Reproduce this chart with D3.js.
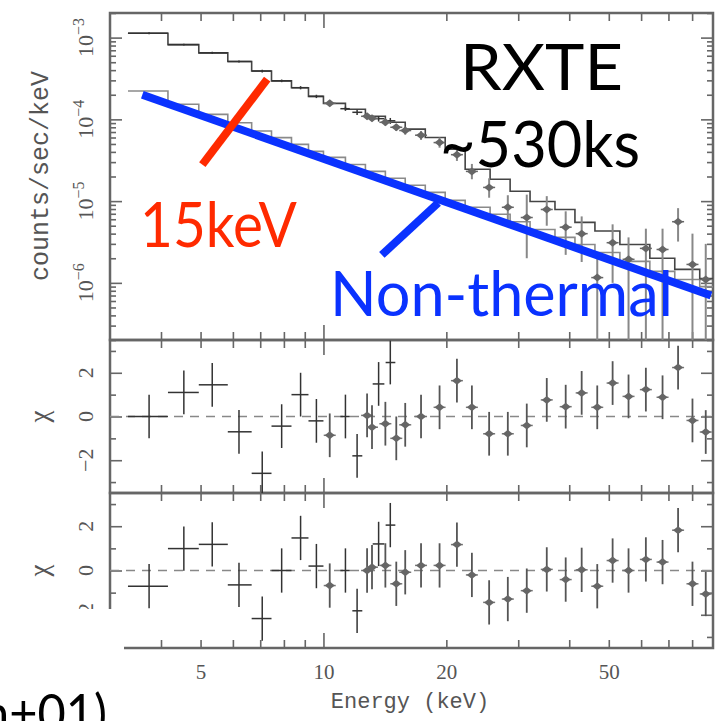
<!DOCTYPE html>
<html>
<head>
<meta charset="utf-8">
<script src="https://cdn.jsdelivr.net/npm/d3@7"></script>
<style>
  body { margin: 0; background: #fff; }
  svg { display: block; }
</style>
</head>
<body>
<script>
// ---- data ----
// model histograms (bin edges in keV, counts/sec/keV per bin)
var modelEdges = [3.32, 4.16, 4.95, 5.83, 6.67, 7.46, 8.35, 9.19, 10, 11.32, 12.67, 14.18, 15.86, 17.76, 19.87, 22.24, 25.6, 28.66, 32.07, 36.91, 41.31, 46.24, 53.23, 63.03, 72.54, 83.51, 90];
var modelUpper = [1.13e-3, 8.2e-4, 6.5e-4, 5.1e-4, 3.9e-4, 2.96e-4, 2.44e-4, 1.91e-4, 1.57e-4, 1.33e-4, 1.09e-4, 9.2e-5, 7.6e-5, 6.0e-5, 4.3e-5, 2.45e-5, 1.85e-5, 1.32e-5, 9.9e-6, 7.9e-6, 5.5e-6, 4.3e-6, 2.95e-6, 2.0e-6, 1.46e-6, 1.13e-6];
var modelLower = [2.22e-4, 1.53e-4, 1.15e-4, 9.1e-5, 7.2e-5, 5.97e-5, 4.94e-5, 4.06e-5, 3.43e-5, 2.81e-5, 2.31e-5, 1.9e-5, 1.56e-5, 1.28e-5, 1.02e-5, 8.4e-6, 6.9e-6, 5.6e-6, 4.5e-6, 3.6e-6, 2.95e-6, 2.35e-6, 1.83e-6, 1.38e-6, 1.1e-6, 9.0e-7];

// low energy data (plain crosses)
var pcaE      = [3.74, 4.55, 5.34, 6.21, 7.08, 7.90, 8.79, 9.61, 11.32, 12.09, 13.65, 14.58];
var pcaELo    = [3.32, 4.16, 4.95, 5.83, 6.67, 7.46, 8.35, 9.19, 11.0, 11.77, 13.2, 14.2];
var pcaEHi    = [4.16, 4.95, 5.83, 6.67, 7.46, 8.35, 9.19, 10.0, 11.6, 12.45, 14.1, 15.0];
var pcaFlux   = [1.13e-3, 8.2e-4, 6.5e-4, 5.1e-4, 3.9e-4, 2.96e-4, 2.44e-4, 1.91e-4, 1.35e-4, 1.22e-4, 1.02e-4, 9.6e-5];
var pcaFluxLo = [1.10e-3, 8.0e-4, 6.3e-4, 4.95e-4, 3.75e-4, 2.85e-4, 2.33e-4, 1.82e-4, 1.27e-4, 1.13e-4, 9.4e-5, 8.8e-5];
var pcaFluxHi = [1.16e-3, 8.4e-4, 6.7e-4, 5.25e-4, 4.05e-4, 3.07e-4, 2.55e-4, 2.0e-4, 1.43e-4, 1.31e-4, 1.10e-4, 1.04e-4];
var pcaChi1   = [0, 1.1, 1.45, -0.7, -2.6, -0.44, 1.0, -0.2, 0, -1.8, 1.49, 2.47];
var pcaChi2   = [-0.71, 0.99, 1.18, -0.65, -2.17, 0, 1.47, 0.2, 0, -1.82, 1.2, 2.05];

// high energy data (diamonds)
var hxE      = [10.36, 12.79, 13.15, 14.18, 15.08, 15.86, 17.34, 19.25, 21.23, 23.10, 25.46, 28.29, 31.48, 35.24, 39.21, 42.91, 46.85, 51.09, 55.89, 61.63, 67.71, 73.91, 80.16, 86.39];
var hxFlux   = [1.57e-4, 1.09e-4, 1.03e-4, 9.2e-5, 8.0e-5, 7.3e-5, 6.4e-5, 5.2e-5, 3.7e-5, 2.31e-5, 1.47e-5, 8.4e-6, 6.3e-6, 7.9e-6, 4.8e-6, 4.0e-6, 1.16e-6, 3.1e-6, 1.94e-6, 2.64e-6, 2.56e-6, 5.6e-6, 1.68e-6, 1.10e-6];
var hxFluxLo = [1.45e-4, 1.0e-4, 9.5e-5, 8.4e-5, 7.2e-5, 6.5e-5, 5.6e-5, 4.5e-5, 3.1e-5, 1.85e-5, 1.1e-5, 5.6e-6, 2.0e-6, 5.0e-6, 2.2e-6, 1.8e-6, 1e-8, 1.0e-6, 1e-8, 1e-8, 1e-8, 3.2e-6, 1e-8, 1e-8];
var hxFluxHi = [1.70e-4, 1.18e-4, 1.12e-4, 1.0e-4, 8.8e-5, 8.1e-5, 7.2e-5, 6.0e-5, 4.4e-5, 2.85e-5, 1.9e-5, 1.18e-5, 1.2e-5, 1.15e-5, 7.5e-6, 6.5e-6, 2.2e-6, 5.2e-6, 3.6e-6, 4.6e-6, 4.6e-6, 8.2e-6, 4.0e-6, 3.0e-6];
var hxChi1   = [-0.86, 0.05, -0.49, -0.33, -1.0, -0.38, 0.0, 0.42, 1.64, 0.42, -0.79, -0.79, -0.41, 0.76, 0.45, 1.08, 0.42, 1.53, 0.92, 1.23, 0.88, 2.24, -0.18, -0.71];
var hxChi2   = [-0.68, 0, 0.15, 0.23, -0.6, -0.08, 0.23, 0.23, 1.17, -0.2, -1.44, -1.29, -0.91, 0.05, -0.41, 0.03, -0.71, 0.45, 0, 0.5, 0.38, 1.82, -0.6, -1.06];

// hand-drawn annotation strokes, in data units (keV, counts/sec/keV)
var nonThermalE = [3.6, 89], nonThermalFlux = [2.0e-4, 7.0e-7];
var pointerE = [19.1, 13.9], pointerFlux = [9.5e-6, 2.2e-6];
var cutE = [7.28, 5.05], cutFlux = [3.1e-4, 2.8e-5];

// tick labels
var xLabels = [5, 10, 20, 50];
var yTopLabels = [1e-6, 1e-5, 1e-4, 1e-3];
var chiLabels = [-2, 0, 2];

// ---- layout ----
var width = 718, height = 721;
var X0 = 110, X1 = 713;
var axisCol = "#666", textCol = "#555";

var svg = d3.select("body").append("svg")
    .attr("width", width)
    .attr("height", height);

var x = d3.scaleLog().domain([3, 90]).range([X0, X1]);
var yTop = d3.scaleLog().domain([2e-7, 2e-3]).range([340, 13]);
var yMid = d3.scaleLinear().domain([-3.5, 3.5]).range([493, 340]);
var yBot = d3.scaleLinear().domain([-3.5, 3.5]).range([648, 493]);

var panels = [
  {name: "top", y: yTop, top: 13, bottom: 340},
  {name: "mid", y: yMid, top: 340, bottom: 493},
  {name: "bot", y: yBot, top: 493, bottom: 648}
];

var xMinor = x.ticks().filter(function(d) { return d > 3 && d < 90 && d !== 10; });
var xMajor = [10];

var defs = svg.append("defs");
panels.forEach(function(p) {
  defs.append("clipPath").attr("id", "clip-" + p.name)
    .append("rect")
    .attr("x", X0).attr("y", p.top)
    .attr("width", X1 - X0).attr("height", p.bottom - p.top);
});

function ax(g, axis, tx, ty) {
  g.append("g")
    .attr("transform", "translate(" + tx + "," + ty + ")")
    .call(axis)
    .call(function(s) { s.select(".domain").remove(); })
    .call(function(s) { s.selectAll("line").attr("stroke", axisCol).attr("stroke-width", 1.6); });
}

function frame(p, yMajor, yMinor) {
  var g = svg.append("g").attr("class", "frame");
  ax(g, d3.axisBottom(x).tickValues(xMinor).tickSize(8).tickFormat(""), 0, p.top);
  ax(g, d3.axisBottom(x).tickValues(xMajor).tickSize(15).tickFormat(""), 0, p.top);
  ax(g, d3.axisTop(x).tickValues(xMinor).tickSize(8).tickFormat(""), 0, p.bottom);
  ax(g, d3.axisTop(x).tickValues(xMajor).tickSize(15).tickFormat(""), 0, p.bottom);
  ax(g, d3.axisRight(p.y).tickValues(yMinor).tickSize(6).tickFormat(""), X0, 0);
  ax(g, d3.axisRight(p.y).tickValues(yMajor).tickSize(12).tickFormat(""), X0, 0);
  ax(g, d3.axisLeft(p.y).tickValues(yMinor).tickSize(6).tickFormat(""), X1, 0);
  ax(g, d3.axisLeft(p.y).tickValues(yMajor).tickSize(12).tickFormat(""), X1, 0);
  g.append("rect")
    .attr("x", X0).attr("y", p.top)
    .attr("width", X1 - X0).attr("height", p.bottom - p.top)
    .attr("fill", "none")
    .attr("stroke", axisCol)
    .attr("stroke-width", 2.5);
}

var logAll = yTop.ticks();
frame(panels[0],
  logAll.filter(function(d) { return Math.abs(Math.log10(d) - Math.round(Math.log10(d))) < 1e-6; }),
  logAll.filter(function(d) { return Math.abs(Math.log10(d) - Math.round(Math.log10(d))) >= 1e-6; }));
frame(panels[1], [-2, 0, 2], [-3, -1, 1, 3]);
frame(panels[2], [-2, 0, 2], [-3, -1, 1, 3]);

// ---- top panel: models and data ----
function steps(edges, vals) {
  var pts = [];
  vals.forEach(function(v, i) {
    pts.push([x(edges[i]), yTop(v)]);
    pts.push([x(edges[i + 1]), yTop(v)]);
  });
  return d3.line()(pts);
}

var topG = svg.append("g").attr("clip-path", "url(#clip-top)");

topG.append("path")
  .attr("d", steps(modelEdges, modelLower))
  .attr("fill", "none").attr("stroke", "#8a8a8a").attr("stroke-width", 1.6);

topG.append("path")
  .attr("d", steps(modelEdges, modelUpper))
  .attr("fill", "none").attr("stroke", "#444").attr("stroke-width", 1.6);

pcaE.forEach(function(e, i) {
  topG.append("line")
    .attr("x1", x(pcaELo[i])).attr("x2", x(pcaEHi[i]))
    .attr("y1", yTop(pcaFlux[i])).attr("y2", yTop(pcaFlux[i]))
    .attr("stroke", "#333").attr("stroke-width", 1.5);
  topG.append("line")
    .attr("x1", x(e)).attr("x2", x(e))
    .attr("y1", yTop(pcaFluxLo[i])).attr("y2", yTop(pcaFluxHi[i]))
    .attr("stroke", "#333").attr("stroke-width", 1.5);
});

var diamond = "M-5,0L0,-4L5,0L0,4Z";

hxE.forEach(function(e, i) {
  topG.append("line")
    .attr("x1", x(e)).attr("x2", x(e))
    .attr("y1", yTop(hxFluxLo[i])).attr("y2", yTop(hxFluxHi[i]))
    .attr("stroke", "#888").attr("stroke-width", 2);
  topG.append("line")
    .attr("x1", x(e) - 6).attr("x2", x(e) + 6)
    .attr("y1", yTop(hxFlux[i])).attr("y2", yTop(hxFlux[i]))
    .attr("stroke", "#666").attr("stroke-width", 1.5);
  topG.append("path")
    .attr("d", diamond)
    .attr("transform", "translate(" + x(e) + "," + yTop(hxFlux[i]) + ")")
    .attr("fill", "#666");
});

// ---- residual panels ----
function residuals(p, chiA, chiB) {
  var g = svg.append("g").attr("clip-path", "url(#clip-" + p.name + ")");
  g.append("line")
    .attr("x1", X0).attr("x2", X1)
    .attr("y1", p.y(0)).attr("y2", p.y(0))
    .attr("stroke", "#888").attr("stroke-width", 1.5)
    .attr("stroke-dasharray", "9,7");

  pcaE.forEach(function(e, i) {
    g.append("line")
      .attr("x1", x(pcaELo[i])).attr("x2", x(pcaEHi[i]))
      .attr("y1", p.y(chiA[i])).attr("y2", p.y(chiA[i]))
      .attr("stroke", "#333").attr("stroke-width", 1.5);
    g.append("line")
      .attr("x1", x(e)).attr("x2", x(e))
      .attr("y1", p.y(chiA[i] - 1)).attr("y2", p.y(chiA[i] + 1))
      .attr("stroke", "#333").attr("stroke-width", 1.5);
  });

  hxE.forEach(function(e, i) {
    g.append("line")
      .attr("x1", x(e)).attr("x2", x(e))
      .attr("y1", p.y(chiB[i] - 1)).attr("y2", p.y(chiB[i] + 1))
      .attr("stroke", "#555").attr("stroke-width", 1.8);
    g.append("line")
      .attr("x1", x(e) - 6).attr("x2", x(e) + 6)
      .attr("y1", p.y(chiB[i])).attr("y2", p.y(chiB[i]))
      .attr("stroke", "#777").attr("stroke-width", 1.5);
    g.append("path")
      .attr("d", diamond)
      .attr("transform", "translate(" + x(e) + "," + p.y(chiB[i]) + ")")
      .attr("fill", "#666");
  });
}

residuals(panels[1], pcaChi1, hxChi1);
residuals(panels[2], pcaChi2, hxChi2);

// ---- axis labels ----
var labels = svg.append("g").attr("fill", textCol);

yTopLabels.forEach(function(v) {
  var t = labels.append("text")
    .attr("transform", "translate(93," + yTop(v) + ") rotate(-90)")
    .attr("text-anchor", "middle")
    .attr("font-family", "Liberation Serif")
    .attr("font-size", 22);
  t.append("tspan").text("10");
  t.append("tspan").attr("dy", -9).attr("font-size", 16).text("\u2212" + Math.round(-Math.log10(v)));
});

[panels[1], panels[2]].forEach(function(p) {
  chiLabels.forEach(function(c) {
    labels.append("text")
      .attr("transform", "translate(93," + p.y(c) + ") rotate(-90)")
      .attr("text-anchor", "middle")
      .attr("font-family", "Liberation Serif")
      .attr("font-size", 22)
      .text(c < 0 ? "\u2212" + (-c) : c);
  });
  labels.append("text")
    .attr("transform", "translate(48," + p.y(0) + ") rotate(-90)")
    .attr("text-anchor", "middle")
    .attr("font-family", "Liberation Serif")
    .attr("font-size", 27)
    .text("\u03c7");
});

labels.append("text")
  .attr("transform", "translate(48,176) rotate(-90)")
  .attr("text-anchor", "middle")
  .attr("font-family", "Liberation Mono")
  .attr("font-size", 25)
  .text("counts/sec/keV");

svg.append("g")
  .attr("transform", "translate(0,648)")
  .call(d3.axisBottom(x).tickValues(xLabels).tickSize(0).tickPadding(16).tickFormat(d3.format("d")))
  .call(function(s) { s.select(".domain").remove(); })
  .call(function(s) {
    s.selectAll("text")
      .attr("font-family", "Liberation Serif")
      .attr("font-size", 21)
      .attr("fill", textCol);
  });

labels.append("text")
  .attr("x", 410).attr("y", 708)
  .attr("text-anchor", "middle")
  .attr("font-family", "Liberation Mono")
  .attr("font-size", 22)
  .text("Energy (keV)");

// ---- slide annotations ----
var ann = svg.append("g");
function stroke(es, fs, col) {
  ann.append("path")
    .attr("d", d3.line()(es.map(function(e, i) { return [x(e), yTop(fs[i])]; })))
    .attr("stroke", col).attr("stroke-width", 8).attr("fill", "none");
}
stroke(nonThermalE, nonThermalFlux, "#0a32ff");
stroke(pointerE, pointerFlux, "#0a32ff");
stroke(cutE, cutFlux, "#ff2a00");

function bigText(parent, str, tx, ty, size, len, col) {
  parent.append("text")
    .attr("x", tx).attr("y", ty)
    .attr("font-family", "Lato")
    .attr("font-size", size)
    .attr("textLength", len)
    .attr("lengthAdjust", "spacingAndGlyphs")
    .attr("fill", col)
    .text(str);
}
bigText(ann, "RXTE", 460, 90, 64, 163, "#000");
bigText(ann, "~530ks", 440, 167, 64, 200, "#000");
bigText(ann, "15keV", 140, 247, 62, 157, "#ff2a00");
bigText(ann, "Non-thermal", 330, 316, 61, 343, "#0a32ff");

// white patch over the lower-left corner and the cut-off caption from the slide
svg.append("rect")
  .attr("x", 0).attr("y", 609)
  .attr("width", 124).attr("height", 112)
  .attr("fill", "#fff");
bigText(svg, "n+01)", -18, 732, 52, 125, "#000");
</script>
</body>
</html>
